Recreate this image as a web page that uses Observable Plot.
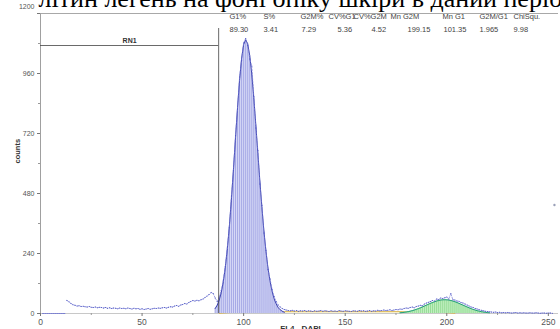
<!DOCTYPE html>
<html><head><meta charset="utf-8">
<script src="https://cdn.jsdelivr.net/npm/d3@7"></script>
<script src="https://cdn.jsdelivr.net/npm/@observablehq/plot@0.6"></script>
<style>
html,body{margin:0;padding:0;background:#fff;overflow:hidden}
</style></head><body><div id="chart"></div>
<script>
// ---------- data ----------
const headerText = "літин легень на фоні опіку шкіри в даний період";
const statLabels = ["G1%","S%","G2M%","CV%G1","CV%G2M","Mn G2M","Mn G1","G2M/G1","ChiSqu."];
const statValues = ["89.30","3.41","7.29","5.36","4.52","199.15","101.35","1.965","9.98"];
const xTicks = [0,50,100,150,200,250];
const xMinorTicks = [25,75,125,175,225];
const yTicks = [0,240,480,720,960];
const yTopTick = [1200];
const yMinorTicks = [120,360,600,840,1080];
const xLabel = "FL4 - DAPI";
const yLabel = "counts";
const gateName = "RN1";
const gateStart = 0, gateEnd = 87.7, gateLevel = 1072, gateTop = 1140;

// G1 model (channels 86..120)
const g1Channels = d3.range(86, 121);
const g1Counts = [20,33,54,84,127,185,259,351,458,577,
  702,823,933,1020,1076,1095,1079,1032,958,863,
  755,641,529,423,329,248,181,129,89,59,
  39,24,15,9,5];

// G2M model (channels 177..221)
const g2Channels = d3.range(177, 222);
const g2Counts = [2.8,3.6,4.7,5.9,7.4,9.2,11.3,13.7,16.4,19.4,
  22.6,26.1,29.7,33.4,37,40.6,44,47.1,49.8,52,
  53.7,54.7,55,54.7,53.7,52,49.8,47.1,44,40.6,
  37,33.4,29.7,26.1,22.6,19.4,16.4,13.7,11.3,9.2,
  7.4,5.9,4.7,3.6,2.8];

// S-phase model
const sChannels = [88,92,96,100,110,120,130,140,150,160,170,180,190,196,200,204];
const sCounts   = [0,3,5,7,8,8,8,8,8,8,8,8,7,5,3,0];

// raw histogram data (channels 1..253)
const rawChannels = d3.range(1, 254);
const rawCounts = [
  0,0,0,0,0,0,0,0,0,0,
  0,0,52,47,40,35,33,30,31,28,
  29,27,26,28,25,24,26,23,25,24,
  22,24,21,23,20,22,21,19,22,20,
  21,19,22,20,18,21,19,20,17,19,
  16,18,20,17,19,21,20,22,21,23,
  24,22,25,27,26,30,32,29,34,36,
  40,38,44,48,52,50,53,51,55,58,
  64,70,76,84,80,62,48,66,92,134,
  188,266,345,470,572,712,818,946,1012,1082,
  1100,1072,1018,990,868,742,652,518,432,322,
  252,176,138,96,68,48,34,26,20,16,
  14,12,11,13,10,12,9,11,10,12,
  9,11,10,8,11,9,10,12,9,11,
  10,8,11,9,10,8,12,10,9,11,
  10,9,8,11,10,9,12,10,11,9,
  10,12,9,11,10,13,11,12,14,12,
  13,15,12,14,16,15,18,17,20,22,
  21,24,26,23,28,30,33,31,38,42,
  45,48,52,50,58,56,62,60,63,66,
  58,80,55,54,50,49,44,42,38,34,
  30,26,24,20,18,15,13,11,9,8,
  7,6,5,6,4,5,3,4,3,4,
  3,2,3,4,2,3,2,3,2,2,
  3,2,2,3,2,1,2,2,1,2,
  2,1,434];

// ---------- tables ----------
const g1 = g1Channels.map((c,i)=>({c, n:g1Counts[i]}));
const g2 = g2Channels.map((c,i)=>({c, n:g2Counts[i]}));
const sp = sChannels.map((c,i)=>({c, n:sCounts[i]}));
const raw = rawChannels.map((c,i)=>({c, n:rawCounts[i]}));
const rawZero = raw.filter(d => d.c <= 12);
const rawMain = raw.filter(d => d.c > 12 && d.c < 253);
const rawOut = raw.filter(d => d.c >= 253);

// ---------- layout ----------
const W = 560, H = 329, ML = 40, MT = 13, MB = 16, MR = 2;
const statLabelX = [229,263,300,328,353,390,442,479,513];
const statValueX = [229,263,301,337,371,407,443,479,513];
const fmt = d3.format("d");

const statMarks = [];
statLabels.forEach((t,i)=>{
  statMarks.push(Plot.text([t], {frameAnchor:"top-left", dx: statLabelX[i]-ML, dy: 3, textAnchor:"start", lineAnchor:"middle", fontSize: 7.5, fill:"#444"}));
});
statValues.forEach((t,i)=>{
  statMarks.push(Plot.text([t], {frameAnchor:"top-left", dx: statValueX[i]-ML, dy: 16, textAnchor:"start", lineAnchor:"middle", fontSize: 7.5, fill:"#444"}));
});

const plot = Plot.plot({
  width: W, height: H,
  marginLeft: ML, marginTop: MT, marginBottom: MB, marginRight: MR,
  style: {fontFamily: "'Liberation Sans', Arial, sans-serif", fontSize: "8px", color: "#555", background: "#fff"},
  x: {domain: [0, 255], label: null},
  y: {domain: [0, 1200], label: null},
  marks: [
    // frame lines
    Plot.ruleY([1200], {stroke: "#a8a8a8", strokeWidth: 1}),
    Plot.ruleX([0], {stroke: "#a0a0a0", strokeWidth: 1}),
    Plot.ruleY([0], {stroke: "#c8c8c8", strokeWidth: 1}),
    // S phase
    Plot.areaY(sp, {x: "c", y: "n", fill: "#f3e2a8", fillOpacity: 0.6}),
    Plot.lineY(sp, {x: "c", y: "n", stroke: "#d9b44a", strokeWidth: 0.8}),
    // G1 peak
    Plot.areaY(g1, {x: "c", y: "n", fill: "#d6d8f6"}),
    Plot.ruleX(g1, {x: "c", y1: 0, y2: "n", stroke: "#959ae0", strokeWidth: 0.75}),
    Plot.lineY(g1, {x: "c", y: "n", stroke: "#3a3fae", strokeWidth: 1}),
    // G2M peak
    Plot.areaY(g2, {x: "c", y: "n", fill: "#c2f0c2"}),
    Plot.ruleX(g2, {x: "c", y1: 0, y2: "n", stroke: "#84d484", strokeWidth: 0.7}),
    Plot.lineY(g2, {x: "c", y: "n", stroke: "#1f9c78", strokeWidth: 1}),
    // raw data
    Plot.lineY(rawZero, {x: "c", y: "n", stroke: "#7a7fd0", strokeWidth: 1}),
    Plot.lineY(rawMain, {x: "c", y: "n", stroke: "#7a80d6", strokeWidth: 0.7, strokeDasharray: "1.5,1.5"}),
    Plot.dot(rawMain, {x: "c", y: "n", r: 0.6, fill: "#4d55c4"}),
    Plot.dot(rawOut, {x: "c", y: "n", r: 1.2, fill: "#9aa0b8"}),
    // gate RN1
    Plot.ruleY([gateLevel], {x1: gateStart, x2: gateEnd, stroke: "#444", strokeWidth: 0.8}),
    Plot.ruleX([gateEnd], {y1: 0, y2: gateTop, stroke: "#444", strokeWidth: 0.8}),
    Plot.text([gateName], {x: (gateStart+gateEnd)/2, y: gateLevel, dy: -5, fontSize: 7, fontWeight: "bold", fill: "#333"}),
    // axes
    Plot.axisX({ticks: xTicks, tickSize: 3, tickPadding: 2, tickFormat: fmt, fontSize: 8.5, fill: "#555", stroke: "#777"}),
    Plot.axisX({ticks: xMinorTicks, tickSize: 2, text: null, stroke: "#999"}),
    Plot.axisY({ticks: yTicks, tickSize: 3, tickPadding: 3, tickFormat: fmt, fontSize: 7, fill: "#555", stroke: "#777"}),
    Plot.axisY({ticks: yTopTick, tickSize: 3, text: null, stroke: "#777"}),
    Plot.axisY({ticks: yTopTick, tickSize: 0, tickPadding: 6, dy: -7, tickFormat: fmt, fontSize: 7, fill: "#555"}),
    Plot.axisY({ticks: yMinorTicks, tickSize: 2, text: null, stroke: "#999"}),
    Plot.text([yLabel], {frameAnchor: "left", dx: -23, rotate: -90, fontSize: 7.5, fontWeight: "bold", fill: "#333"}),
    Plot.text([xLabel], {frameAnchor: "bottom", dx: 1, dy: 12, lineAnchor: "top", fontSize: 8, fontWeight: "bold", fill: "#333"}),
    // stats header
    ...statMarks,
    // cropped caption above
    Plot.text([headerText], {frameAnchor: "top-left", dx: -2, dy: -15, textAnchor: "start", lineAnchor: "middle", fontSize: 26, fill: "#000", fontFamily: "'Liberation Serif', 'Times New Roman', serif"})
  ]
});
document.getElementById("chart").appendChild(plot);
</script>
</body></html>
